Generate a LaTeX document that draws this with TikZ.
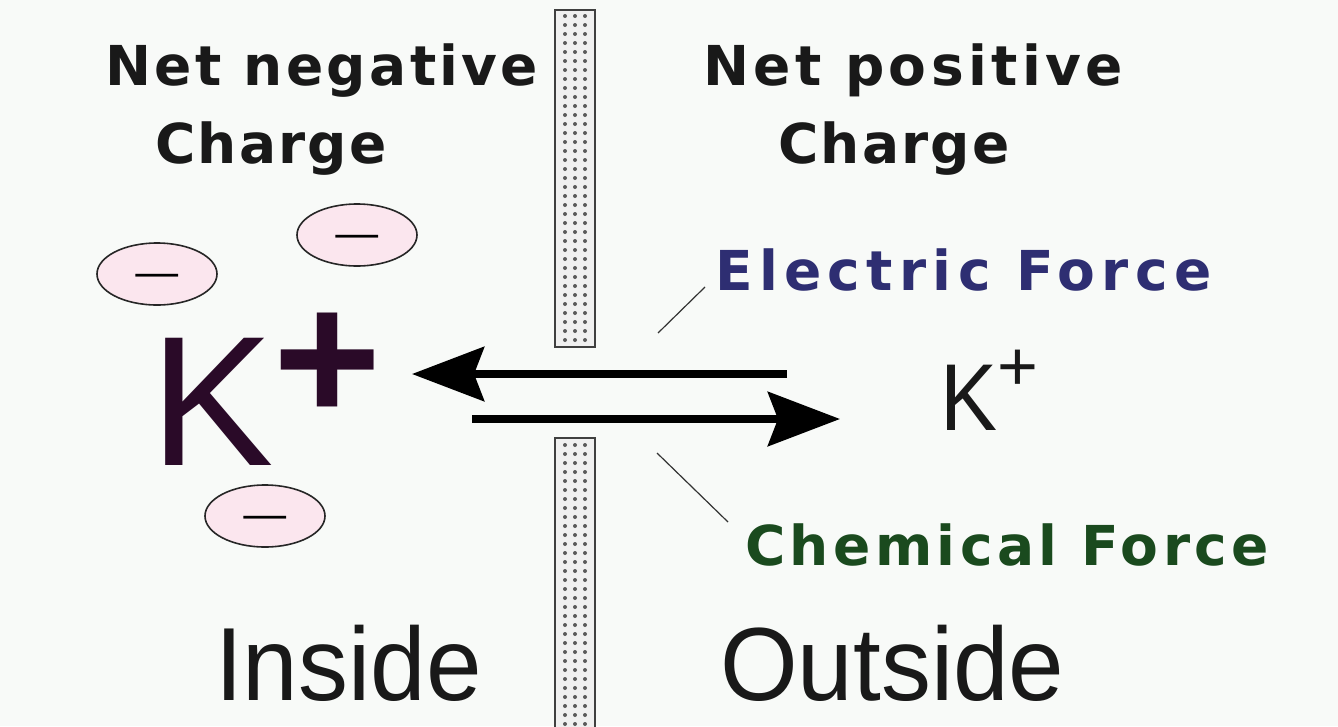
\documentclass[tikz,border=0pt]{standalone}
\usepackage{fontspec}
\usetikzlibrary{arrows.meta,shapes.geometric}
\newfontfamily\lblfontA[LetterSpace=4]{DejaVu Sans}
\newfontfamily\lblfontB[LetterSpace=6]{DejaVu Sans}
\newfontfamily\lblfontC[LetterSpace=8]{DejaVu Sans}
\newfontfamily\lblfontD[LetterSpace=11.5]{DejaVu Sans}
\newfontfamily\arialfont{Liberation Sans}
\definecolor{bg}{HTML}{F8FAF8}
\definecolor{efblue}{HTML}{2E2E72}
\definecolor{cfgreen}{HTML}{1A4A1E}
\definecolor{kpurple}{HTML}{2A0A28}
\definecolor{negpink}{HTML}{FBE6EE}
\definecolor{dotgray}{HTML}{5A5A5A}
\newcommand{\negsign}{\smash{\raisebox{-14.4pt}{\scalebox{1.6}[0.7]{−}}}}
\begin{document}
\begin{tikzpicture}[x=1pt,y=-1pt,
  lbl/.style={inner sep=0pt, anchor=base west, text=black!90},
  lsize/.style={font=#1\bfseries\fontsize{55}{60}\selectfont},
  big/.style={inner sep=0pt, anchor=base west, font=\arialfont\fontsize{104}{110}\selectfont, text=black!90},
  neg/.style={ellipse, draw=black!85, line width=1.6pt, fill=negpink, minimum width=120pt, minimum height=62pt, inner sep=0pt, text height=0pt, text depth=0pt, font=\arialfont\fontsize{55}{55}\selectfont},
  force/.style={line width=8pt, -{Stealth[length=72pt,width=54pt,inset=10pt]}},
  leader/.style={line width=1.2pt, black!80},
  memb/.style={draw=black!75, line width=1.8pt, fill=white!94!black}
]
\fill[bg] (0,0) rectangle (1338,726);
\useasboundingbox (0,0) rectangle (1338,726);

% membrane
\draw[memb] (555,10) rectangle (595,347);
\draw[memb] (555,438) rectangle (595,740);
\foreach \yy in {16,25,...,343} {
  \foreach \xx in {565,575,585} { \fill[dotgray] (\xx,\yy) circle (2pt); }
}
\foreach \yy in {445,454,...,726} {
  \foreach \xx in {565,575,585} { \fill[dotgray] (\xx,\yy) circle (2pt); }
}

% labels
\node[lbl, lsize=\lblfontB] (nneg) at (105,85) {Net negative};
\node[lbl, lsize=\lblfontA] (cneg) at (155,163) {Charge};
\node[lbl, lsize=\lblfontC] (npos) at (703,85) {Net positive};
\node[lbl, lsize=\lblfontA] (cpos) at (778,163) {Charge};
\node[lbl, lsize=\lblfontD, text=efblue] (ef) at (715,290) {Electric Force};
\node[lbl, lsize=\lblfontC, text=cfgreen] (cf) at (745,565) {Chemical Force};
\node[big] (inside) at (215,700) {\scalebox{0.96}[1]{Inside}};
\node[big] (outside) at (720,700) {\scalebox{0.96}[1]{Outside}};

% ions
\node[inner sep=0pt, anchor=base west, text=kpurple, font=\arialfont\fontsize{185}{190}\selectfont] (kin) at (150,465) {K\raisebox{44pt}{\fontsize{185}{185}\selectfont\bfseries +}};
\node[inner sep=0pt, anchor=base west, text=black!90, font=\arialfont\fontsize{95}{100}\selectfont] (kout) at (940,430) {\scalebox{0.9}[1]{K}\raisebox{40pt}{\fontsize{70}{70}\selectfont +}};

% negative charges
\node[neg] (m1) at (157,274) {\negsign};
\node[neg] (m2) at (357,235) {\negsign};
\node[neg] (m3) at (265,516) {\negsign};

% forces
\coordinate (eS) at (787,374);
\coordinate (eT) at (412,374);
\coordinate (cS) at (472,419);
\coordinate (cT) at (840,419);
\draw[force] (eS) -- (eT);
\draw[force] (cS) -- (cT);

% leaders
\coordinate (el1) at (658,333);
\coordinate (el2) at (705,287);
\coordinate (cl1) at (657,453);
\coordinate (cl2) at (728,522);
\draw[leader] (el1) -- (el2);
\draw[leader] (cl1) -- (cl2);
\end{tikzpicture}
\end{document}
